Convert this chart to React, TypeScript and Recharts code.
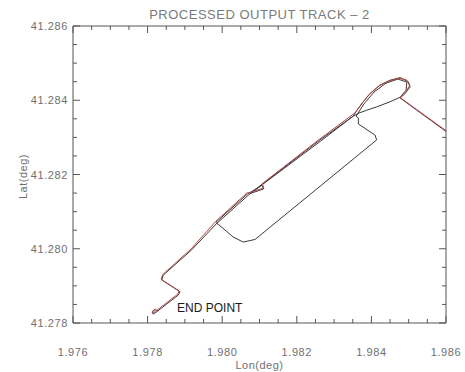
import React from 'react';
import { LineChart, Line, XAxis, YAxis, ReferenceDot } from 'recharts';

// ---- data ----
const trackLon = [
  1.986, 1.98477, 1.9849, 1.98504, 1.98499, 1.98477, 1.9845, 1.98423, 1.98396, 1.98378,
  1.98361, 1.98351, 1.98365, 1.98387, 1.98414, 1.9845, 1.98477, 1.98493, 1.98495, 1.98471,
  1.98439, 1.98407, 1.9838, 1.98359, 1.98365, 1.98365, 1.9841, 1.98414, 1.98088, 1.98056,
  1.98029, 1.97994, 1.97983, 1.98067, 1.98107, 1.98111, 1.98075, 1.98262, 1.98351, 1.98264,
  1.98072, 1.97985, 1.97918, 1.97842, 1.97838, 1.97887, 1.97882, 1.97824, 1.97815, 1.97812,
  1.9782, 1.97828,
];
const trackLat = [
  41.28316, 41.28406, 41.28418, 41.28436, 41.2845, 41.28461, 41.28454, 41.28441, 41.28418, 41.28396,
  41.28373, 41.28357, 41.28365, 41.28373, 41.28382, 41.28396, 41.28408, 41.28427, 41.28449, 41.28457,
  41.28446, 41.28422, 41.2839, 41.28357, 41.28352, 41.28336, 41.28306, 41.28293, 41.28025, 41.28018,
  41.28032, 41.28062, 41.28071, 41.28147, 41.28171, 41.28161, 41.28149, 41.28293, 41.28357, 41.2829,
  41.28146, 41.28068, 41.27997, 41.27929, 41.27916, 41.27884, 41.27875, 41.2783, 41.27824, 41.2783,
  41.27836, 41.27832,
];
const refLon = [
  1.986, 1.98476, 1.98492, 1.98502, 1.98494, 1.98474, 1.98447, 1.9842, 1.98394, 1.98375,
  1.98358, 1.98348, 1.98262, 1.98107, 1.98112, 1.98076, 1.98066, 1.97983, 1.97917, 1.97841,
  1.97836, 1.97885, 1.9788, 1.97822, 1.97813, 1.97814, 1.97822,
];
const refLat = [
  41.28318, 41.28408, 41.28421, 41.2844, 41.28455, 41.28459, 41.28452, 41.28438, 41.28415, 41.28392,
  41.28368, 41.2836, 41.28296, 41.28175, 41.28164, 41.28152, 41.2815, 41.28074, 41.28, 41.27931,
  41.27918, 41.27886, 41.27877, 41.27832, 41.27826, 41.27833, 41.27838,
];
const xMajorTicks = [1.976, 1.978, 1.98, 1.982, 1.984, 1.986];
const xTickLabels = ['1.976', '1.978', '1.980', '1.982', '1.984', '1.986'];
const yMajorTicks = [41.278, 41.28, 41.282, 41.284, 41.286];
const yTickLabels = ['41.278', '41.280', '41.282', '41.284', '41.286'];
const title = 'PROCESSED OUTPUT TRACK \u2013 2';
const xTitle = 'Lon(deg)';
const yTitle = 'Lat(deg)';
const annotation = { lon: 1.97879, lat: 41.2784, text: 'END POINT' };

const withMinor = (majors: number[]) => {
  const out: number[] = [];
  majors.forEach((m, i) => {
    out.push(m);
    if (i < majors.length - 1) {
      const step = (majors[i + 1] - m) / 4;
      for (let k = 1; k < 4; k++) out.push(+(m + step * k).toFixed(5));
    }
  });
  return out;
};
const xTicks = withMinor(xMajorTicks);
const yTicks = withMinor(yMajorTicks);

const blackData = trackLon.map((lon, i) => ({ lon, lat: trackLat[i] }));
const redData = refLon.map((lon, i) => ({ lon, lat: refLat[i] }));

const FONT = '"Liberation Sans", Arial, sans-serif';
const FRAME = '#555';
const LABEL = '#707070';
const MAJ = 7;
const MIN = 4;

const BottomTick = (p: any) => {
  const major = p.index % 4 === 0;
  return (
    <g>
      <line x1={p.x} x2={p.x} y1={p.y} y2={p.y - (major ? MAJ : MIN)} stroke={FRAME} strokeWidth={1} />
      {major && (
        <text x={p.x} y={p.y + 29} textAnchor="middle" dominantBaseline="central" fill={LABEL}
          fontFamily={FONT} fontSize={11} letterSpacing={0.6}>
          {xTickLabels[p.index / 4]}
        </text>
      )}
    </g>
  );
};
const TopTick = (p: any) => {
  const major = p.index % 4 === 0;
  return <line x1={p.x} x2={p.x} y1={p.y} y2={p.y + (major ? MAJ : MIN)} stroke={FRAME} strokeWidth={1} />;
};
const LeftTick = (p: any) => {
  const major = p.index % 4 === 0;
  return (
    <g>
      <line x1={p.x} x2={p.x + (major ? MAJ : MIN)} y1={p.y} y2={p.y} stroke={FRAME} strokeWidth={1} />
      {major && (
        <text x={p.x - 5} y={p.y} textAnchor="end" dominantBaseline="central" fill={LABEL}
          fontFamily={FONT} fontSize={11} letterSpacing={0.6}>
          {yTickLabels[p.index / 4]}
        </text>
      )}
    </g>
  );
};
const RightTick = (p: any) => {
  const major = p.index % 4 === 0;
  return <line x1={p.x} x2={p.x - (major ? MAJ : MIN)} y1={p.y} y2={p.y} stroke={FRAME} strokeWidth={1} />;
};

export default function App() {
  return (
    <div style={{ position: 'fixed', left: 0, top: 0, width: 465, height: 372, background: '#fff' }}>
      <LineChart width={465} height={372} margin={{ top: 25, right: 18, bottom: 0, left: 0 }}>
        <XAxis xAxisId="b" type="number" dataKey="lon" domain={[1.976, 1.986]} allowDataOverflow
          ticks={xTicks} interval={0} height={49} tickSize={0} tickMargin={0} tickLine={false}
          tick={BottomTick} axisLine={{ stroke: FRAME }}
          label={{
            content: (lp: any) => (
              <text x={lp.viewBox.x + lp.viewBox.width / 2} y={lp.viewBox.y + 42} textAnchor="middle"
                dominantBaseline="central" fill={LABEL} fontFamily={FONT} fontSize={11} letterSpacing={0.5}>
                {xTitle}
              </text>
            ),
          }} />
        <XAxis xAxisId="t" orientation="top" type="number" dataKey="lon" domain={[1.976, 1.986]} allowDataOverflow
          ticks={xTicks} interval={0} height={1} tickSize={0} tickMargin={0} tickLine={false}
          tick={TopTick} axisLine={{ stroke: FRAME }}
          label={{
            content: (lp: any) => (
              <text x={lp.viewBox.x + lp.viewBox.width / 2} y={14} textAnchor="middle"
                dominantBaseline="central" fill="#7a7a7a" fontFamily={FONT} fontSize={13} letterSpacing={0.5}>
                {title}
              </text>
            ),
          }} />
        <YAxis yAxisId="l" type="number" dataKey="lat" domain={[41.278, 41.286]} allowDataOverflow
          ticks={yTicks} interval={0} width={73} tickSize={0} tickMargin={0} tickLine={false}
          tick={LeftTick} axisLine={{ stroke: FRAME }}
          label={{
            content: (lp: any) => {
              const cx = lp.viewBox.x + 23;
              const cy = lp.viewBox.y + lp.viewBox.height / 2 + 2;
              return (
                <text x={cx} y={cy} transform={`rotate(-90 ${cx} ${cy})`} textAnchor="middle"
                  dominantBaseline="central" fill={LABEL} fontFamily={FONT} fontSize={11} letterSpacing={0.5}>
                  {yTitle}
                </text>
              );
            },
          }} />
        <YAxis yAxisId="r" orientation="right" type="number" dataKey="lat" domain={[41.278, 41.286]} allowDataOverflow
          ticks={yTicks} interval={0} width={1} tickSize={0} tickMargin={0} tickLine={false}
          tick={RightTick} axisLine={{ stroke: FRAME }} />
        <Line data={blackData} xAxisId="t" yAxisId="r" dataKey="lat" stroke="none" dot={false}
          isAnimationActive={false} />
        <Line data={blackData} xAxisId="b" yAxisId="l" dataKey="lat" stroke="#3a3a3a" strokeWidth={1}
          dot={false} isAnimationActive={false} />
        <Line data={redData} xAxisId="b" yAxisId="l" dataKey="lat" stroke="#b8454a" strokeWidth={1}
          dot={false} isAnimationActive={false} />
        <ReferenceDot xAxisId="b" yAxisId="l" x={annotation.lon} y={annotation.lat} r={0}
          fill="none" stroke="none"
          label={{
            content: (lp: any) => (
              <text x={lp.viewBox.x} y={lp.viewBox.y} textAnchor="start" dominantBaseline="central"
                fill="#1a1a1a" fontFamily={FONT} fontSize={12}>
                {annotation.text}
              </text>
            ),
          }} />
      </LineChart>
    </div>
  );
}
